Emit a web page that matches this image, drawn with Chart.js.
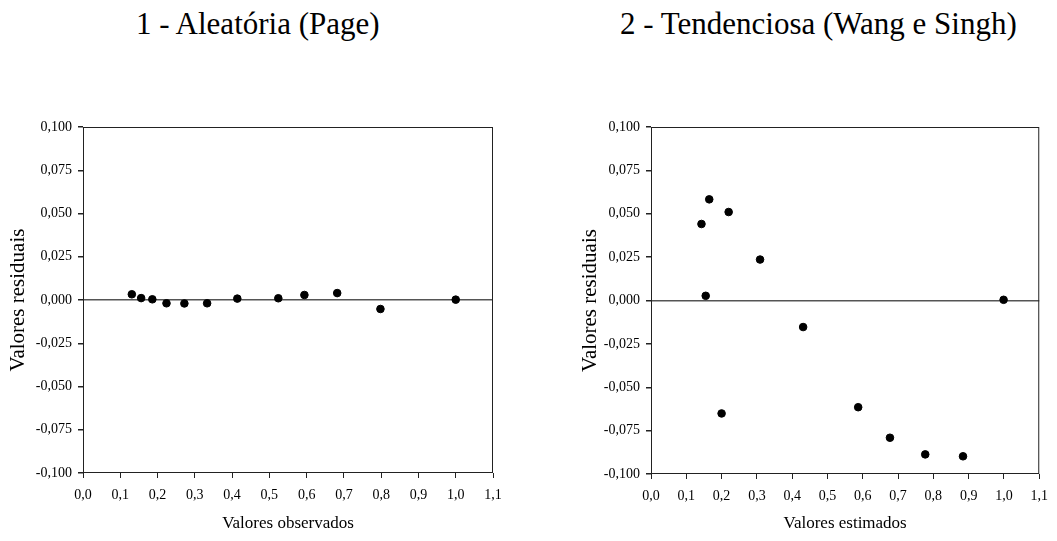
<!DOCTYPE html>
<html>
<head>
<meta charset="utf-8">
<script src="https://cdn.jsdelivr.net/npm/chart.js@4.4.0/dist/chart.umd.min.js"></script>
<style>
  body { margin: 0; background: #fff; width: 1057px; height: 541px; position: relative; overflow: hidden; }
  .title { position: absolute; top: 6px; font-family: 'Liberation Serif'; font-size: 31px; color: #000; white-space: nowrap; }
  .box { position: absolute; top: 0; height: 541px; }
</style>
</head>
<body>
<div class="title" id="t1" style="left:136px">1 - Aleatória (Page)</div>
<div class="title" id="t2" style="left:620px">2 - Tendenciosa (Wang e Singh)</div>
<div class="box" style="left:0; width:520px"><canvas id="chart1"></canvas></div>
<div class="box" style="left:567px; width:490px"><canvas id="chart2"></canvas></div>
<script>
// residuos - grafico 1 (Page)
const obsX = [0.131, 0.156, 0.186, 0.224, 0.272, 0.333, 0.414, 0.524, 0.594, 0.682, 0.798, 1.0];
const obsRes = [0.0033, 0.0011, 0.0004, -0.0019, -0.002, -0.0019, 0.0008, 0.0010, 0.0029, 0.0040, -0.0052, 0.0002];

// residuos - grafico 2 (Wang e Singh)
const estX = [0.143, 0.155, 0.165, 0.200, 0.220, 0.309, 0.431, 0.587, 0.677, 0.777, 0.884, 0.999];
const estRes = [0.0441, 0.0027, 0.0583, -0.0651, 0.051, 0.0236, -0.0153, -0.0615, -0.0791, -0.0887, -0.0898, 0.0004];

const yMin = -0.1, yMax = 0.1, yStep = 0.025;
const xMin = 0, xMax = 1.1, xStep = 0.1;

Chart.defaults.font.family = 'Liberation Serif';
Chart.defaults.color = '#000';

// desenha a moldura do grafico
const frame = {
  id: 'frame',
  afterDraw(chart) {
    const a = chart.chartArea, c = chart.ctx;
    c.save();
    c.strokeStyle = '#222';
    c.lineWidth = 1;
    c.strokeRect(a.left + 0.5, a.top + 0.5, a.right - a.left - 1, a.bottom - a.top - 1);
    c.restore();
  }
};

function makeChart(id, xs, ys, xTitle, pad, yW, xH, yTitlePad) {
  const pts = xs.map((x, i) => ({ x: x, y: ys[i] }));
  return new Chart(document.getElementById(id), {
    type: 'scatter',
    data: {
      datasets: [{
        data: pts,
        backgroundColor: '#000',
        borderColor: '#000',
        pointRadius: 3.8,
        pointHoverRadius: 3.8
      }]
    },
    options: {
      responsive: true,
      maintainAspectRatio: false,
      animation: false,
      layout: { padding: pad },
      plugins: { legend: { display: false }, tooltip: { enabled: false } },
      scales: {
        x: {
          type: 'linear',
          min: xMin, max: xMax,
          afterFit: s => { s.height = xH; },
          border: { display: false },
          grid: { drawOnChartArea: false, tickColor: '#222', tickLength: 5 },
          ticks: {
            stepSize: xStep, padding: 9, color: '#000',
            font: { family: 'Liberation Serif', size: 14 },
            callback: v => v.toFixed(1).replace('.', ',')
          },
          title: {
            display: true, text: xTitle, color: '#000',
            font: { family: 'Liberation Serif', size: 17 },
            padding: { top: 0, bottom: 7 }
          }
        },
        y: {
          type: 'linear',
          min: yMin, max: yMax,
          afterFit: s => { s.width = yW; },
          border: { display: false },
          grid: {
            color: ctx => (ctx.tick && Math.abs(ctx.tick.value) < 1e-9) ? '#555' : 'rgba(0,0,0,0)',
            lineWidth: 1.5,
            tickColor: '#222', tickLength: 5
          },
          ticks: {
            stepSize: yStep, padding: 6, color: '#000',
            font: { family: 'Liberation Serif', size: 14 },
            callback: v => v.toFixed(3).replace('.', ',')
          },
          title: {
            display: true, text: 'Valores residuais', color: '#000',
            font: { family: 'Liberation Serif', size: 21 },
            padding: { top: yTitlePad, bottom: 0 }
          }
        }
      }
    },
    plugins: [frame]
  });
}

makeChart('chart1', obsX, obsRes, 'Valores observados', { left: 0, right: 27, top: 127, bottom: 0 }, 83, 68, 6);
makeChart('chart2', estX, estRes, 'Valores estimados', { left: 0, right: 8, top: 127, bottom: 0 }, 84, 67, 11);
</script>
</body>
</html>
